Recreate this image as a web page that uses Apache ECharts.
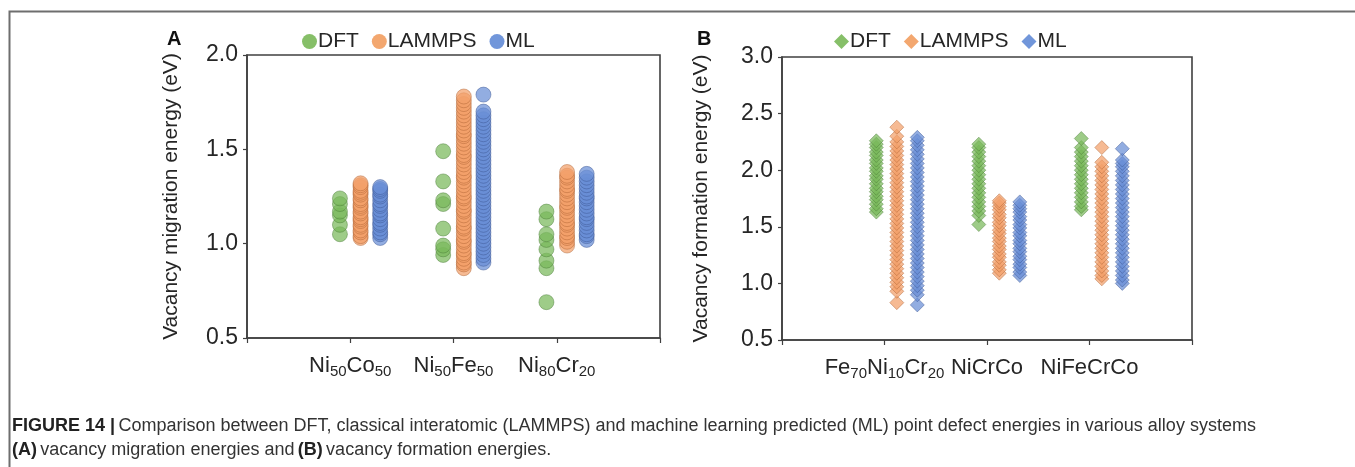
<!DOCTYPE html>
<html>
<head>
<meta charset="utf-8">
<script src="https://cdn.jsdelivr.net/npm/echarts@6/dist/echarts.min.js"></script>
<style>
  html, body { margin: 0; padding: 0; background: #fff; }
  #chart { width: 1355px; height: 467px; }
</style>
</head>
<body>
<div id="chart"></div>
<script>
// ---- Panel A: vacancy migration energies (eV) ----
const categoriesA = ['Ni50Co50', 'Ni50Fe50', 'Ni80Cr20'];
const dftA = [
  [1.05, 1.10, 1.15, 1.17, 1.21, 1.24],
  [0.94, 0.97, 0.99, 1.08, 1.21, 1.23, 1.33, 1.49],
  [0.69, 0.87, 0.91, 0.97, 1.02, 1.05, 1.13, 1.17]
];
const lammpsA = [
  [1.03, 1.04, 1.06, 1.07, 1.09, 1.10, 1.12, 1.13, 1.14, 1.16, 1.17, 1.19, 1.20, 1.21, 1.23, 1.24, 1.26, 1.27, 1.28, 1.30, 1.31, 1.32],
  [0.87, 0.89, 0.90, 0.92, 0.94, 0.95, 0.97, 0.99, 1.01, 1.02, 1.04, 1.06, 1.08, 1.09, 1.11, 1.13, 1.15, 1.17, 1.18, 1.20, 1.22, 1.24, 1.25, 1.27, 1.29, 1.31, 1.33, 1.35, 1.36, 1.38, 1.40, 1.42, 1.44, 1.46, 1.47, 1.49, 1.51, 1.53, 1.55, 1.57, 1.58, 1.60, 1.62, 1.64, 1.66, 1.68, 1.70, 1.72, 1.74, 1.76, 1.78],
  [0.99, 1.01, 1.03, 1.04, 1.06, 1.08, 1.10, 1.11, 1.13, 1.15, 1.17, 1.19, 1.20, 1.22, 1.24, 1.26, 1.28, 1.29, 1.31, 1.33, 1.35, 1.36, 1.38]
];
const mlA = [
  [1.03, 1.05, 1.06, 1.08, 1.10, 1.11, 1.13, 1.15, 1.16, 1.18, 1.20, 1.21, 1.23, 1.25, 1.26, 1.28, 1.29, 1.30],
  [0.90, 0.92, 0.94, 0.96, 0.98, 1.00, 1.02, 1.04, 1.06, 1.08, 1.10, 1.12, 1.14, 1.16, 1.18, 1.20, 1.22, 1.24, 1.26, 1.28, 1.30, 1.32, 1.34, 1.36, 1.38, 1.40, 1.42, 1.44, 1.46, 1.48, 1.50, 1.52, 1.54, 1.56, 1.58, 1.60, 1.62, 1.64, 1.66, 1.68, 1.70, 1.79],
  [1.02, 1.04, 1.05, 1.07, 1.09, 1.11, 1.13, 1.14, 1.16, 1.18, 1.20, 1.22, 1.24, 1.25, 1.27, 1.29, 1.31, 1.33, 1.35, 1.37]
];
const ticksA = [0.5, 1.0, 1.5, 2.0];

// ---- Panel B: vacancy formation energies (eV) ----
const categoriesB = ['Fe70Ni10Cr20', 'NiCrCo', 'NiFeCrCo'];
const dftB = [
  [1.63, 1.66, 1.70, 1.74, 1.77, 1.81, 1.84, 1.88, 1.92, 1.95, 1.99, 2.02, 2.06, 2.09, 2.13, 2.16, 2.20, 2.23, 2.26],
  [1.52, 1.60, 1.64, 1.68, 1.72, 1.76, 1.80, 1.84, 1.88, 1.92, 1.96, 2.00, 2.04, 2.08, 2.12, 2.16, 2.20, 2.23],
  [1.65, 1.68, 1.72, 1.76, 1.80, 1.84, 1.88, 1.92, 1.96, 2.00, 2.04, 2.08, 2.12, 2.16, 2.20, 2.28]
];
const lammpsB = [
  [0.83, 0.93, 0.97, 1.01, 1.05, 1.09, 1.13, 1.17, 1.21, 1.25, 1.29, 1.33, 1.37, 1.41, 1.45, 1.49, 1.53, 1.57, 1.61, 1.65, 1.69, 1.73, 1.77, 1.81, 1.85, 1.89, 1.93, 1.97, 2.01, 2.05, 2.09, 2.13, 2.17, 2.21, 2.25, 2.30, 2.38],
  [1.09, 1.12, 1.16, 1.19, 1.23, 1.26, 1.30, 1.33, 1.37, 1.40, 1.44, 1.47, 1.51, 1.54, 1.58, 1.61, 1.65, 1.68, 1.71, 1.73],
  [1.04, 1.07, 1.11, 1.15, 1.19, 1.23, 1.27, 1.31, 1.35, 1.39, 1.43, 1.47, 1.51, 1.55, 1.59, 1.63, 1.67, 1.71, 1.75, 1.79, 1.83, 1.87, 1.91, 1.95, 1.99, 2.03, 2.07, 2.20]
];
const mlB = [
  [0.81, 0.90, 0.94, 0.98, 1.02, 1.06, 1.10, 1.14, 1.18, 1.22, 1.26, 1.30, 1.34, 1.38, 1.42, 1.46, 1.50, 1.54, 1.58, 1.62, 1.66, 1.70, 1.74, 1.78, 1.82, 1.86, 1.90, 1.94, 1.98, 2.02, 2.06, 2.10, 2.14, 2.18, 2.22, 2.26, 2.29],
  [1.07, 1.10, 1.14, 1.17, 1.21, 1.24, 1.28, 1.31, 1.35, 1.38, 1.42, 1.45, 1.49, 1.52, 1.56, 1.59, 1.63, 1.66, 1.69, 1.72],
  [1.00, 1.03, 1.07, 1.11, 1.15, 1.19, 1.23, 1.27, 1.31, 1.35, 1.39, 1.43, 1.47, 1.51, 1.55, 1.59, 1.63, 1.67, 1.71, 1.75, 1.79, 1.83, 1.87, 1.91, 1.95, 1.99, 2.03, 2.06, 2.09, 2.19]
];
const ticksB = [0.5, 1.0, 1.5, 2.0, 2.5, 3.0];

const seriesNames = ['DFT', 'LAMMPS', 'ML'];

// ---- styling ----
const FONT = 'Liberation Sans, Arial, sans-serif';
const TEXT = '#262626';
const AXIS = '#404040';
const fills = ['rgba(120,185,90,0.72)', 'rgba(243,160,105,0.72)', 'rgba(104,142,214,0.72)'];
const edges = ['rgba(70,120,50,0.55)', 'rgba(170,95,45,0.55)', 'rgba(55,80,140,0.55)'];
const solid = ['#86bf68', '#f3a76f', '#7196da'];

// category label "Ni50Co50" -> rich text with subscripted digits
function subLabel(s) {
  return s.split(/(\d+)/).filter(Boolean)
    .map(p => /^\d+$/.test(p) ? '{s|' + p + '}' : '{n|' + p + '}').join('');
}

function points(groups, offset) {
  const out = [];
  groups.forEach((vals, i) => vals.forEach(v => out.push([i + 1 + offset, v])));
  return out;
}

function xAxisFor(cats, gridIndex) {
  return {
    type: 'value', gridIndex, min: 0, max: cats.length + 1, interval: 1,
    axisLine: { show: true, lineStyle: { color: AXIS, width: 1.6 } },
    axisTick: { show: true, inside: false, length: 5, lineStyle: { color: AXIS, width: 1.2 } },
    splitLine: { show: false },
    axisLabel: {
      margin: 15,
      formatter: v => (v >= 1 && v <= cats.length && Number.isInteger(v)) ? subLabel(cats[v - 1]) : '',
      rich: {
        n: { fontSize: 22, fontFamily: FONT, color: TEXT, lineHeight: 26 },
        s: { fontSize: 15, fontFamily: FONT, color: TEXT, lineHeight: 15, verticalAlign: 'bottom' }
      }
    }
  };
}

function yAxisFor(ticks, title, gridIndex, gap) {
  return {
    type: 'value', gridIndex, min: ticks[0], max: ticks[ticks.length - 1], interval: 0.5,
    name: title, nameLocation: 'middle', nameGap: gap, nameRotate: 90,
    nameTextStyle: { fontSize: 21, fontFamily: FONT, color: TEXT },
    axisLine: { show: true, lineStyle: { color: AXIS, width: 1.6 } },
    axisTick: { show: true, inside: false, length: 4, lineStyle: { color: AXIS, width: 1.2 } },
    splitLine: { show: false },
    axisLabel: { margin: 9, fontSize: 23, fontFamily: FONT, color: TEXT, formatter: v => v.toFixed(1) }
  };
}

function scatterSeries(groupsList, offsets, xi, symbol, size) {
  return groupsList.map((groups, k) => ({
    name: seriesNames[k], type: 'scatter', xAxisIndex: xi, yAxisIndex: xi,
    symbol, symbolSize: size,
    itemStyle: { color: fills[k], borderColor: edges[k], borderWidth: 0.8, opacity: 1 },
    emphasis: { disabled: true },
    data: points(groups, offsets[k])
  }));
}

function legendFor(left, icon) {
  return {
    left, top: 26, orient: 'horizontal', itemWidth: 15, itemHeight: 15, itemGap: 13,
    selectedMode: false,
    textStyle: { fontSize: 21, fontFamily: FONT, color: TEXT, padding: [0, 0, 0, -4] },
    data: seriesNames.map((n, k) => ({ name: n, icon, itemStyle: { color: solid[k], borderWidth: 0 } }))
  };
}

const chart = echarts.init(document.getElementById('chart'), null, { renderer: 'canvas' });

const option = {
  animation: false,
  backgroundColor: '#fff',
  grid: [
    { left: 247, top: 55, width: 413, height: 283, show: true, borderColor: AXIS, borderWidth: 1.6, backgroundColor: 'transparent' },
    { left: 782, top: 57, width: 410, height: 283, show: true, borderColor: AXIS, borderWidth: 1.6, backgroundColor: 'transparent' }
  ],
  xAxis: [xAxisFor(categoriesA, 0), xAxisFor(categoriesB, 1)],
  yAxis: [
    yAxisFor(ticksA, 'Vacancy migration energy (eV)', 0, 65),
    yAxisFor(ticksB, 'Vacancy formation energy (eV)', 1, 70)
  ],
  legend: [legendFor(297, 'circle'), legendFor(829, 'diamond')],
  series: [
    ...scatterSeries([dftA, lammpsA, mlA], [-0.1, 0.1, 0.29], 0, 'circle', 15),
    ...scatterSeries([dftB, lammpsB, mlB], [-0.08, 0.12, 0.32], 1, 'diamond', 14)
  ],
  graphic: [
    // figure frame
    { type: 'rect', left: 7, top: 9, shape: { width: 1400, height: 500 }, style: { fill: 'none', stroke: '#6e6e6e', lineWidth: 2 }, silent: true },
    { type: 'text', left: 167, top: 29, style: { text: 'A', font: 'bold 20px ' + FONT, fill: '#111' } },
    { type: 'text', left: 697, top: 29, style: { text: 'B', font: 'bold 20px ' + FONT, fill: '#111' } },
    {
      type: 'text', left: 12, top: 417,
      style: {
        text: '{b|FIGURE 14 |} {r|Comparison between DFT, classical interatomic (LAMMPS) and machine learning predicted (ML) point defect energies in various alloy systems}',
        rich: {
          b: { font: 'bold 18px ' + FONT, fill: '#222' },
          r: { font: '18px ' + FONT, fill: '#333' }
        }
      }
    },
    {
      type: 'text', left: 12, top: 441,
      style: {
        text: '{b|(A)} {r|vacancy migration energies and} {b|(B)} {r|vacancy formation energies.}',
        rich: {
          b: { font: 'bold 18px ' + FONT, fill: '#222' },
          r: { font: '18px ' + FONT, fill: '#333' }
        }
      }
    }
  ]
};

chart.setOption(option);
</script>
</body>
</html>
